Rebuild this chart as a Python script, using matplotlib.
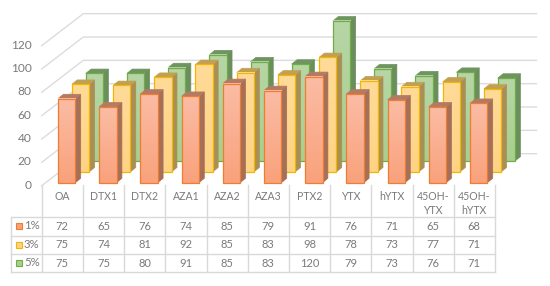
import matplotlib
matplotlib.use('Agg')
import matplotlib.pyplot as plt
from matplotlib.patches import Polygon, Rectangle
import numpy

plt.rcParams['font.family'] = ['Lato', 'DejaVu Sans']

categories = ['OA', 'DTX1', 'DTX2', 'AZA1', 'AZA2', 'AZA3', 'PTX2', 'YTX',
              'hYTX', '45OH-\nYTX', '45OH-\nhYTX']
series_names = ['1%', '3%', '5%']
values_1 = [72, 65, 76, 74, 85, 79, 91, 76, 71, 65, 68]
values_3 = [75, 74, 81, 92, 85, 83, 98, 78, 73, 77, 71]
values_5 = [75, 75, 80, 91, 85, 83, 120, 79, 73, 76, 71]
y_ticks = [0, 20, 40, 60, 80, 100, 120]

# face top, face bottom, edge, side, roof
series_colors = [
    ('#FBBCA4', '#F9A27C', '#ED7D31', '#A66F58', '#B57A62'),
    ('#FFDB98', '#FFD384', '#F2B600', '#A98F55', '#C2A052'),
    ('#B6D6A6', '#A8D08D', '#70AD47', '#6A8F5C', '#6F9460'),
]

# oblique projection of the excel style 3d chart, in image pixels
LEFT = 41.7
STEP = 41.2
FLOOR_Y = 185.7
UNIT = 1.167
DEPTH_X = 41.6
DEPTH_Y = 32.0
BAR_INSET = 16.3
BAR_WIDTH = 17.3
SIDE_X = 5.4
SIDE_Y = 4.4
TEXT_COLOR = '#7A7A7A'
GRID_COLOR = '#DCDCDC'
TABLE_COLOR = '#D9D9D9'
ROW_Y = [216.7, 235.7, 254.3, 272.3]


def draw_bar(ax, cat, ser, value, colors):
    top_color, bottom_color, edge, side, roof = colors
    x0 = LEFT + STEP * cat + BAR_INSET + ser * DEPTH_X / 3
    y0 = FLOOR_Y - 3 - ser * 10.85
    x1 = x0 + BAR_WIDTH
    y1 = y0 - value * UNIT
    ax.add_patch(Polygon(
        [(x1, y0), (x1 + SIDE_X, y0 - SIDE_Y), (x1 + SIDE_X, y1 - SIDE_Y), (x1, y1)],
        facecolor=side, edgecolor=side, linewidth=0.5, zorder=3))
    ax.add_patch(Polygon(
        [(x0, y1), (x1, y1), (x1 + SIDE_X, y1 - SIDE_Y), (x0 + SIDE_X, y1 - SIDE_Y)],
        facecolor=roof, edgecolor=roof, linewidth=0.5, zorder=3))
    gradient = numpy.linspace(0, 1, 32).reshape(-1, 1)
    cmap = matplotlib.colors.LinearSegmentedColormap.from_list(
        'bar', [top_color, bottom_color])
    ax.imshow(gradient, cmap=cmap, extent=(x0, x1, y0, y1), aspect='auto', zorder=3)
    ax.add_patch(Rectangle(
        (x0, y1), BAR_WIDTH, y0 - y1, facecolor='none', edgecolor=edge,
        linewidth=0.9, zorder=3))


def main():
    fig = plt.figure(figsize=(5.5, 2.86), dpi=100)
    ax = fig.add_axes([0, 0, 1, 1])
    right = LEFT + STEP * len(categories)

    # walls
    for tick in y_ticks:
        y = FLOOR_Y - tick * UNIT
        ax.plot([LEFT, LEFT + DEPTH_X, right + DEPTH_X],
                [y, y - DEPTH_Y, y - DEPTH_Y],
                color=GRID_COLOR, linewidth=1.0, zorder=1)
        ax.text(LEFT - 10, y - 0.5, str(tick), color=TEXT_COLOR, fontsize=8.6,
                ha='right', va='center')

    # bars, back series first
    all_values = [values_1, values_3, values_5]
    for ser in [2, 1, 0]:
        for cat, value in enumerate(all_values[ser]):
            draw_bar(ax, cat, ser, value, series_colors[ser])

    # data table
    for i in range(len(categories) + 1):
        x = LEFT + STEP * i
        ax.plot([x, x], [FLOOR_Y - 1, ROW_Y[-1]], color=TABLE_COLOR, linewidth=1.0)
    ax.plot([11, 11], [ROW_Y[0], ROW_Y[-1]], color=TABLE_COLOR, linewidth=1.0)
    for y in ROW_Y:
        ax.plot([11, right], [y, y], color=TABLE_COLOR, linewidth=1.0)

    for cat, name in enumerate(categories):
        x = LEFT + STEP * (cat + 0.5)
        ax.text(x, 197 if '\n' not in name else 203.8, name, color=TEXT_COLOR,
                fontsize=7.6, ha='center', va='center', linespacing=1.3)
    for ser, name in enumerate(series_names):
        y = (ROW_Y[ser] + ROW_Y[ser + 1]) / 2
        ax.add_patch(Rectangle((15.5, y - 3), 6, 6, facecolor=series_colors[ser][1],
                               edgecolor=series_colors[ser][2], linewidth=0.8))
        ax.text(24, y - 0.5, name, color=TEXT_COLOR, fontsize=8.2, ha='left', va='center')
        for cat, value in enumerate(all_values[ser]):
            ax.text(LEFT + STEP * (cat + 0.5), y, str(value), color=TEXT_COLOR,
                    fontsize=8.0, ha='center', va='center')

    ax.set_xlim(0, 550)
    ax.set_ylim(286, 0)
    ax.axis('off')
    fig.savefig('out.png', dpi=100, facecolor='white')


if __name__ == '__main__':
    main()
